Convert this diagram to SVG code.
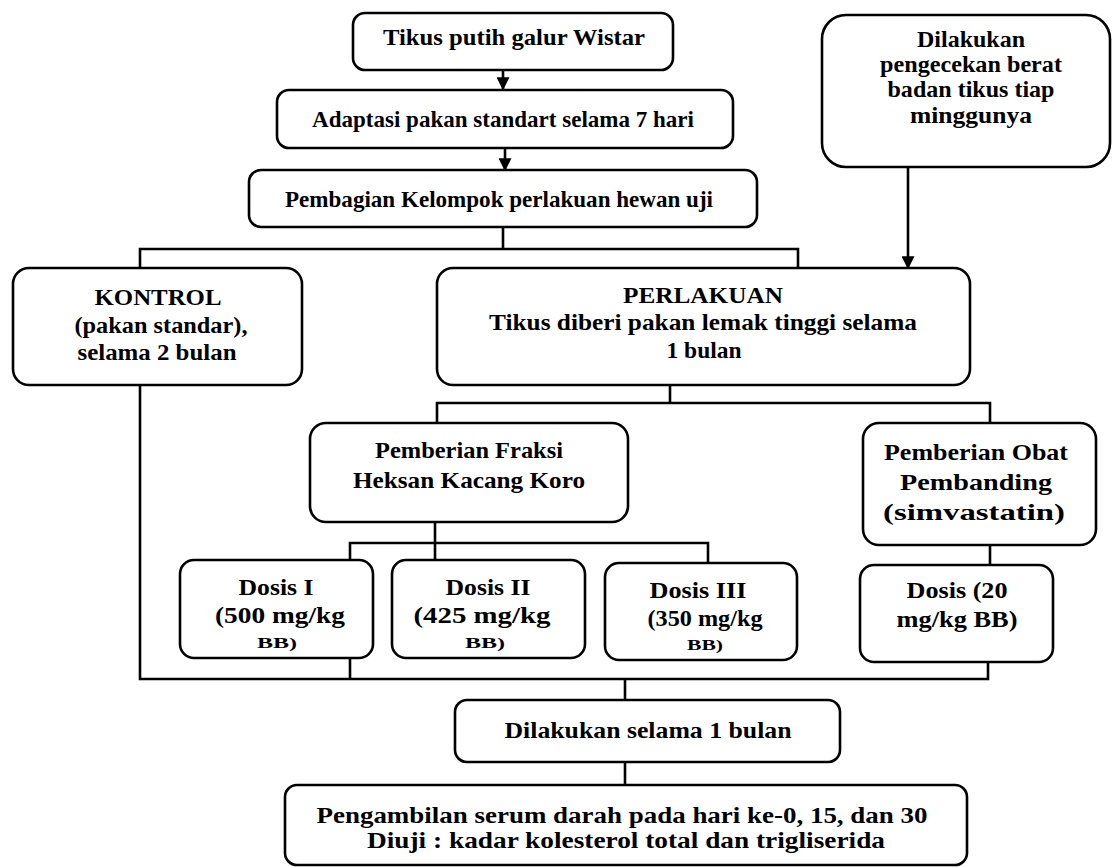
<svg xmlns="http://www.w3.org/2000/svg" width="1112" height="867" viewBox="0 0 1112 867">
<style>
.box{fill:#fff;stroke:#000;stroke-width:2.6}
.ln{fill:none;stroke:#000;stroke-width:2.6}
text{font-family:"Liberation Serif","Times New Roman",serif;font-weight:bold;font-size:23px;fill:#000;text-anchor:middle}
.sm{font-size:15px}
</style>
<defs>
<marker id="ah" viewBox="0 0 10 10" refX="9" refY="5" markerWidth="14" markerHeight="13" markerUnits="userSpaceOnUse" orient="auto">
<path d="M0,0 L10,5 L0,10 z" fill="#000"/>
</marker>
</defs>
<rect width="1112" height="867" fill="#fff"/>
<g id="connectors">
<line class="ln" x1="503" y1="70" x2="503" y2="89" marker-end="url(#ah)"/>
<line class="ln" x1="505" y1="148" x2="505" y2="170" marker-end="url(#ah)"/>
<line class="ln" x1="908" y1="167" x2="908" y2="268" marker-end="url(#ah)"/>
<line class="ln" x1="503" y1="227" x2="503" y2="249"/>
<polyline class="ln" points="140,268 140,249 798,249 798,268"/>
<line class="ln" x1="670" y1="385" x2="670" y2="403"/>
<polyline class="ln" points="437,423 437,403 990,403 990,423"/>
<line class="ln" x1="435" y1="522" x2="435" y2="560"/>
<polyline class="ln" points="350,560 350,543 708,543 708,563"/>
<line class="ln" x1="990" y1="545" x2="990" y2="565"/>
<polyline class="ln" points="140,385 140,679 988,679 988,662"/>
<line class="ln" x1="350" y1="658" x2="350" y2="679"/>
<line class="ln" x1="625" y1="679" x2="625" y2="700"/>
<line class="ln" x1="625" y1="762" x2="625" y2="785"/>
</g>
<g id="n1"><rect class="box" x="353" y="13" width="320" height="57" rx="12"/><text x="514" y="45" textLength="262" lengthAdjust="spacingAndGlyphs">Tikus putih galur Wistar</text></g>
<g id="n2"><rect class="box" x="277" y="90" width="456" height="58" rx="12"/><text x="503" y="127" textLength="382" lengthAdjust="spacingAndGlyphs">Adaptasi pakan standart selama 7 hari</text></g>
<g id="n3"><rect class="box" x="249" y="170" width="508" height="57" rx="12"/><text x="499" y="207" textLength="428" lengthAdjust="spacingAndGlyphs">Pembagian Kelompok perlakuan hewan uji</text></g>
<g id="n4"><rect class="box" x="822" y="15" width="288" height="152" rx="24"/>
<text x="971" y="47" textLength="108" lengthAdjust="spacingAndGlyphs">Dilakukan</text><text x="971" y="72" textLength="182" lengthAdjust="spacingAndGlyphs">pengecekan berat</text><text x="971" y="97" textLength="167" lengthAdjust="spacingAndGlyphs">badan tikus tiap</text><text x="971" y="123" textLength="122" lengthAdjust="spacingAndGlyphs">minggunya</text></g>
<g id="n5"><rect class="box" x="13" y="268" width="289" height="117" rx="16"/>
<text x="158" y="305" textLength="127" lengthAdjust="spacingAndGlyphs">KONTROL</text><text x="161" y="333" textLength="173" lengthAdjust="spacingAndGlyphs">(pakan standar),</text><text x="157" y="360" textLength="159" lengthAdjust="spacingAndGlyphs">selama 2 bulan</text></g>
<g id="n6"><rect class="box" x="437" y="268" width="533" height="117" rx="16"/>
<text x="703" y="303" textLength="160" lengthAdjust="spacingAndGlyphs">PERLAKUAN</text><text x="703" y="330" textLength="428" lengthAdjust="spacingAndGlyphs">Tikus diberi pakan lemak tinggi selama</text><text x="704" y="358" textLength="75" lengthAdjust="spacingAndGlyphs">1 bulan</text></g>
<g id="n7"><rect class="box" x="310" y="423" width="318" height="99" rx="16"/>
<text x="469" y="458" textLength="188" lengthAdjust="spacingAndGlyphs">Pemberian Fraksi</text><text x="469" y="488" textLength="232" lengthAdjust="spacingAndGlyphs">Heksan Kacang Koro</text></g>
<g id="n8"><rect class="box" x="863" y="423" width="233" height="122" rx="16"/>
<text x="976" y="460" textLength="184" lengthAdjust="spacingAndGlyphs">Pemberian Obat</text><text x="976" y="490" textLength="152" lengthAdjust="spacingAndGlyphs">Pembanding</text><text x="974" y="520" textLength="182" lengthAdjust="spacingAndGlyphs">(simvastatin)</text></g>
<g id="n9"><rect class="box" x="180" y="560" width="193" height="98" rx="14"/>
<text x="276" y="595" textLength="75" lengthAdjust="spacingAndGlyphs">Dosis I</text><text x="280" y="623" textLength="130" lengthAdjust="spacingAndGlyphs">(500 mg/kg</text><text class="sm" x="277" y="648" textLength="40" lengthAdjust="spacingAndGlyphs">BB)</text></g>
<g id="n10"><rect class="box" x="392" y="560" width="193" height="98" rx="14"/>
<text x="488" y="595" textLength="85" lengthAdjust="spacingAndGlyphs">Dosis II</text><text x="482" y="623" textLength="137" lengthAdjust="spacingAndGlyphs">(425 mg/kg</text><text class="sm" x="485" y="648" textLength="40" lengthAdjust="spacingAndGlyphs">BB)</text></g>
<g id="n11"><rect class="box" x="605" y="563" width="192" height="97" rx="14"/>
<text x="698" y="598" textLength="97" lengthAdjust="spacingAndGlyphs">Dosis III</text><text x="705" y="626" textLength="115" lengthAdjust="spacingAndGlyphs">(350 mg/kg</text><text class="sm" x="705" y="650" textLength="36" lengthAdjust="spacingAndGlyphs">BB)</text></g>
<g id="n12"><rect class="box" x="860" y="565" width="193" height="97" rx="14"/>
<text x="957" y="598" textLength="101" lengthAdjust="spacingAndGlyphs">Dosis (20</text><text x="957" y="627" textLength="121" lengthAdjust="spacingAndGlyphs">mg/kg BB)</text></g>
<g id="n13"><rect class="box" x="455" y="700" width="385" height="62" rx="12"/><text x="648" y="738" textLength="287" lengthAdjust="spacingAndGlyphs">Dilakukan selama 1 bulan</text></g>
<g id="n14"><rect class="box" x="285" y="785" width="682" height="80" rx="12"/>
<text x="622" y="823" textLength="611" lengthAdjust="spacingAndGlyphs">Pengambilan serum darah pada hari ke-0, 15, dan 30</text><text x="626" y="848" textLength="518" lengthAdjust="spacingAndGlyphs">Diuji : kadar kolesterol total dan trigliserida</text></g>
</svg>
